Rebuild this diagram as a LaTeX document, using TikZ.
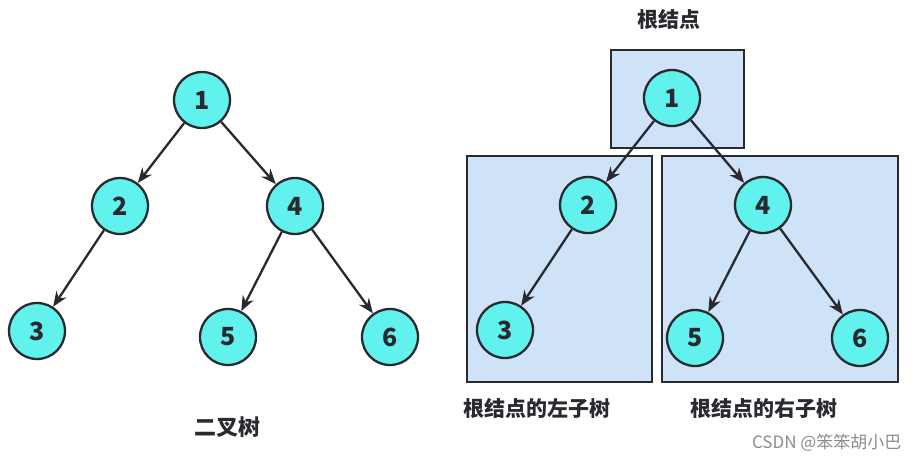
\documentclass[tikz,border=0pt]{standalone}
\usepackage{fontspec}
\setmainfont{Noto Sans CJK SC}
\usetikzlibrary{arrows.meta}
\definecolor{nodecyan}{RGB}{98,242,238}
\definecolor{boxblue}{RGB}{206,226,248}
\definecolor{linegray}{RGB}{40,42,48}
\begin{document}
\begin{tikzpicture}[x=1pt, y=-1pt, >={Stealth[length=15pt,width=12pt]},
        vertex/.style={circle, draw=linegray, line width=2.3pt, fill=nodecyan, minimum size=56pt, inner sep=0pt, font=\fontsize{25}{25}\selectfont\bfseries, text=linegray},
        treebox/.style={draw=linegray, line width=2.8pt, fill=boxblue, inner sep=0pt},
        tlabel/.style={font=\fontsize{21}{21}\selectfont\bfseries, text=linegray},
        link/.style={->, draw=linegray, line width=2.3pt}]
        \useasboundingbox (0,0) rectangle (919,464);
        % left: the binary tree
        \node[vertex] (a1) at (202,100) {1};
        \node[vertex] (a2) at (120,206) {2};
        \node[vertex] (a4) at (295,206) {4};
        \node[vertex] (a3) at (37,331) {3};
        \node[vertex] (a5) at (228,337) {5};
        \node[vertex] (a6) at (390,337) {6};
        \node[tlabel, font=\fontsize{22}{22}\selectfont\bfseries] (lname) at (227,427) {二叉树};
        % right: root and its two subtrees
        \node[treebox, minimum width=133pt, minimum height=98pt] (rootbox) at (677.5,99) {};
        \node[treebox, minimum width=185pt, minimum height=226pt] (leftbox) at (559.5,269) {};
        \node[treebox, minimum width=236pt, minimum height=226pt] (rightbox) at (780,269) {};
        \node[vertex] (b1) at (672,98) {1};
        \node[vertex] (b2) at (588,205) {2};
        \node[vertex] (b4) at (763,205) {4};
        \node[vertex] (b3) at (505,330) {3};
        \node[vertex] (b5) at (695,338) {5};
        \node[vertex] (b6) at (860,338) {6};
        \node[tlabel] (rootname) at (669,20) {根结点};
        \node[tlabel] (leftname) at (537,409) {根结点的左子树};
        \node[tlabel] (rightname) at (764,409) {根结点的右子树};
        \node[font=\fontsize{17}{17}\selectfont, text=black!45, anchor=east] (mark) at (905,443) {CSDN @笨笨胡小巴};
        \foreach \u/\v in {a1/a2,a1/a4,a2/a3,a4/a5,a4/a6,b1/b2,b1/b4,b2/b3,b4/b5,b4/b6}
        {
            \draw[link] (\u) -- (\v);
        }
\end{tikzpicture}
\end{document}
